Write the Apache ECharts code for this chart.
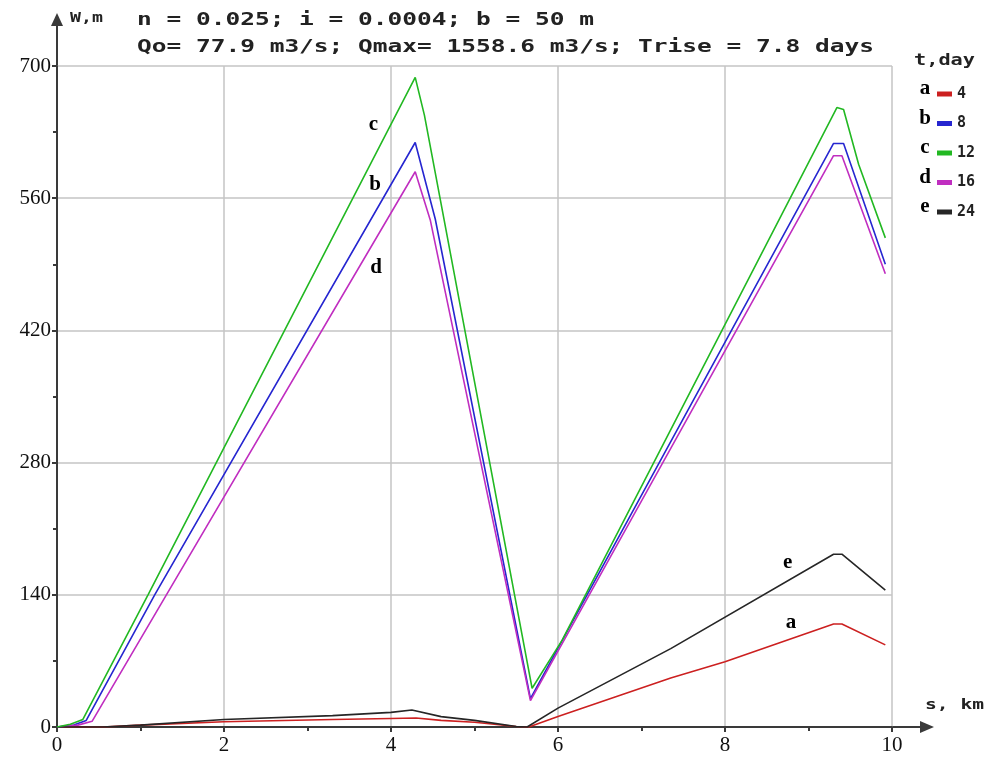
<!DOCTYPE html>
<html>
<head>
<meta charset="utf-8">
<script src="https://cdn.jsdelivr.net/npm/echarts@6/dist/echarts.min.js"></script>
<style>
  html, body { margin: 0; padding: 0; background: #fff; }
  #chart { width: 1000px; height: 760px; }
</style>
</head>
<body>
<div id="chart"></div>
<script>
// t, day for each curve and the letter written on it
var days = ['4', '8', '12', '16', '24'];
var letters = ['a', 'b', 'c', 'd', 'e'];
var colors = ['#cc2020', '#2626d0', '#22b822', '#c02ec0', '#262626'];

// [s, km ; W, m]
var curveA = [[0, 0], [0.55, 0], [1, 2], [2, 5.5], [3.3, 8], [4, 9], [4.3, 9.5], [4.6, 7], [5, 5], [5.5, 0.5], [5.65, 0],
  [6, 11], [7.35, 52], [8, 69], [9.3, 109], [9.4, 109], [9.92, 87]];
var curveB = [[0, 0], [0.2, 2], [0.35, 7], [1.17, 140], [4.29, 619], [4.53, 538], [5.67, 30],
  [9.3, 618], [9.42, 618], [9.92, 490]];
var curveC = [[0, 0], [0.16, 3], [0.31, 8], [1.09, 140], [4.29, 688], [4.4, 648], [4.63, 540], [5.69, 41],
  [6.05, 92], [9.34, 656], [9.42, 654], [9.6, 596], [9.92, 518]];
var curveD = [[0, 0], [0.25, 2], [0.42, 6], [1.31, 140], [4.29, 588], [4.47, 537], [5.67, 28],
  [9.3, 605], [9.4, 605], [9.92, 480]];
var curveE = [[0, 0], [0.55, 0], [1, 2], [2, 8], [3.3, 12], [4, 15.5], [4.25, 18], [4.6, 11], [5, 7], [5.5, 0.5], [5.63, 0],
  [6, 20], [7.35, 83], [9.3, 183], [9.4, 183], [9.92, 145]];
var curves = [curveA, curveB, curveC, curveD, curveE];

// where the letters sit on the curves
var letterAt = [[8.79, 111], [3.81, 574], [3.79, 638], [3.82, 486], [8.75, 174]];

var titleLine1 = 'n = 0.025; i = 0.0004; b = 50 m';
var titleLine2 = 'Qo= 77.9 m3/s; Qmax= 1558.6 m3/s; Trise = 7.8 days';

var G = { left: 57, top: 66, right: 108, bottom: 33 };
var X0 = G.left, Y0 = 760 - G.bottom, X1 = 1000 - G.right;
var mono = '"DejaVu Sans Mono", monospace';
var serif = '"Liberation Serif", "Times New Roman", serif';
var axisColor = '#3a3a3a';

var myChart = echarts.init(document.getElementById('chart'));

var series = [];
for (var i = 0; i < curves.length; i++) {
    series.push({
        name: days[i],
        type: 'line',
        data: curves[i],
        symbol: 'none',
        smooth: false,
        lineStyle: { color: colors[i], width: 1.6 },
        itemStyle: { color: colors[i] },
        z: i == 2 ? 4 : 3,
        markPoint: {
            symbol: 'circle',
            symbolSize: 0,
            data: [{ coord: letterAt[i], value: letters[i] }],
            label: {
                show: true,
                position: 'inside',
                formatter: letters[i],
                color: '#000',
                fontFamily: serif,
                fontWeight: 'bold',
                fontSize: 21
            }
        }
    });
}

var graphics = [
    // axis extensions with arrows
    { type: 'line', shape: { x1: X0, y1: G.top, x2: X0, y2: 24 }, style: { stroke: axisColor, lineWidth: 2 } },
    { type: 'polygon', shape: { points: [[X0, 13], [X0 - 6, 26], [X0 + 6, 26]] }, style: { fill: axisColor } },
    { type: 'line', shape: { x1: X1, y1: Y0, x2: 922, y2: Y0 }, style: { stroke: axisColor, lineWidth: 2 } },
    { type: 'polygon', shape: { points: [[934, Y0], [920, Y0 - 6], [920, Y0 + 6]] }, style: { fill: axisColor } },
    // axis names
    { type: 'text', x: 70, y: 18, scaleX: 1.3, style: { text: 'W,m', font: 'bold 14px ' + mono, fill: '#222', textVerticalAlign: 'middle' } },
    { type: 'text', x: 925, y: 705, scaleX: 1.4, style: { text: 's, km', font: 'bold 14px ' + mono, fill: '#222', textVerticalAlign: 'middle' } },
    // title
    { type: 'text', x: 137, y: 21, scaleX: 1.44, style: { text: titleLine1, font: 'bold 17px ' + mono, fill: '#222', textVerticalAlign: 'middle' } },
    { type: 'text', x: 137, y: 48, scaleX: 1.44, style: { text: titleLine2, font: 'bold 17px ' + mono, fill: '#222', textVerticalAlign: 'middle' } },
    // legend header
    { type: 'text', x: 914, y: 61, scaleX: 1.35, style: { text: 't,day', font: 'bold 15px ' + mono, fill: '#222', textVerticalAlign: 'middle' } }
];
for (var k = 0; k < letters.length; k++) {
    graphics.push({
        type: 'text', x: 925, y: 89 + k * 29.5,
        style: { text: letters[k], font: 'bold 21px ' + serif, fill: '#000', textAlign: 'center', textVerticalAlign: 'middle' }
    });
}

var option = {
    animation: false,
    grid: { left: G.left, top: G.top, right: G.right, bottom: G.bottom, containLabel: false },
    legend: {
        orient: 'vertical',
        left: 932,
        top: 81,
        itemWidth: 15,
        itemHeight: 5,
        itemGap: 13.5,
        icon: 'rect',
        data: days,
        textStyle: { fontFamily: mono, fontWeight: 'bold', fontSize: 15, color: '#222', lineHeight: 16 }
    },
    xAxis: {
        type: 'value',
        min: 0,
        max: 10,
        interval: 2,
        axisLine: { show: true, onZero: false, lineStyle: { color: axisColor, width: 2 } },
        axisTick: { show: true, length: 5, lineStyle: { color: axisColor, width: 2 } },
        minorTick: { show: true, splitNumber: 2, length: 4, lineStyle: { color: axisColor, width: 2 } },
        splitLine: { show: true, lineStyle: { color: '#c4c4c4', width: 1.5 } },
        axisLabel: { fontFamily: serif, fontSize: 21, color: '#111', margin: 8 }
    },
    yAxis: {
        type: 'value',
        min: 0,
        max: 700,
        interval: 140,
        axisLine: { show: true, lineStyle: { color: axisColor, width: 2 } },
        axisTick: { show: true, length: 5, lineStyle: { color: axisColor, width: 2 } },
        minorTick: { show: true, splitNumber: 2, length: 4, lineStyle: { color: axisColor, width: 2 } },
        splitLine: { show: true, lineStyle: { color: '#c4c4c4', width: 1.5 } },
        axisLabel: { fontFamily: serif, fontSize: 21, color: '#111', margin: 6 }
    },
    graphic: graphics,
    series: series
};
myChart.setOption(option);
</script>
</body>
</html>
